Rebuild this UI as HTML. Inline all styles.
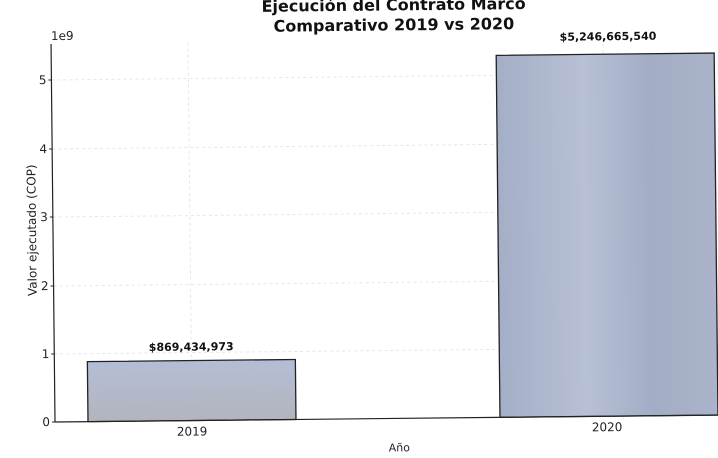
<!DOCTYPE html>
<html><head><meta charset="utf-8"><style>
html,body{margin:0;padding:0;background:#fff;}
svg{display:block;font-family:"DejaVu Sans","Liberation Sans",sans-serif;}
</style></head><body>
<svg width="718" height="458" viewBox="0 0 718 458">
<defs>
<linearGradient id="g1" x1="0" y1="0" x2="0" y2="1"><stop offset="0" stop-color="#b4bdd6"/><stop offset="1" stop-color="#b3b5bd"/></linearGradient>
<linearGradient id="g2" x1="0" y1="0" x2="1" y2="0"><stop offset="0" stop-color="#a4aec6"/><stop offset="0.4" stop-color="#b7c0d6"/><stop offset="0.7" stop-color="#a3adc5"/><stop offset="1" stop-color="#aab3c9"/></linearGradient>
</defs>
<g transform="rotate(-0.6 55 422)">
<g stroke="#e6e6e6" stroke-width="1" stroke-dasharray="3,3">
<line x1="55" x2="718" y1="354" y2="354"/><line x1="55" x2="718" y1="286" y2="286"/>
<line x1="55" x2="718" y1="217" y2="217"/><line x1="55" x2="718" y1="149" y2="149"/>
<line x1="55" x2="718" y1="80" y2="80"/>
<line x1="192" x2="192" y1="44" y2="422"/><line x1="607" x2="607" y1="44" y2="422"/>
</g>
<rect x="88" y="362" width="208" height="60" fill="url(#g1)" stroke="#222" stroke-width="1.3"/>
<rect x="500" y="60" width="218" height="362" fill="url(#g2)" stroke="#222" stroke-width="1.3"/>
<line x1="55" y1="44" x2="55" y2="422" stroke="#222" stroke-width="1.2"/>
<line x1="55" y1="422" x2="718" y2="422" stroke="#222" stroke-width="1.2"/>
<g font-size="12" fill="#222" text-anchor="end">
<text x="50" y="426">0</text><text x="50" y="358">1</text><text x="50" y="290">2</text>
<text x="50" y="221">3</text><text x="50" y="153">4</text><text x="50" y="84">5</text>
</g>
<g stroke="#222"><line x1="52" x2="55" y1="422" y2="422"/><line x1="52" x2="55" y1="354" y2="354"/><line x1="52" x2="55" y1="286" y2="286"/><line x1="52" x2="55" y1="217" y2="217"/><line x1="52" x2="55" y1="149" y2="149"/><line x1="52" x2="55" y1="80" y2="80"/></g>
<text x="55" y="40" font-size="12" fill="#222">1e9</text>
<text x="192" y="437" font-size="12" fill="#222" text-anchor="middle">2019</text>
<text x="607" y="437" font-size="12" fill="#222" text-anchor="middle">2020</text>
<text x="399" y="455" font-size="11" fill="#222" text-anchor="middle">Año</text>
<text transform="translate(38 230) rotate(-90)" font-size="12" fill="#222" text-anchor="middle">Valor ejecutado (COP)</text>
<text x="192" y="352" font-size="11" font-weight="bold" fill="#111" text-anchor="middle">$869,434,973</text>
<text x="612" y="46" font-size="11" font-weight="bold" fill="#111" text-anchor="middle">$5,246,665,540</text>
<text x="398" y="14" font-size="16" font-weight="bold" fill="#111" text-anchor="middle">Ejecución del Contrato Marco</text>
<text x="398" y="34" font-size="16" font-weight="bold" fill="#111" text-anchor="middle">Comparativo 2019 vs 2020</text>
</g>
</svg>
</body></html>
